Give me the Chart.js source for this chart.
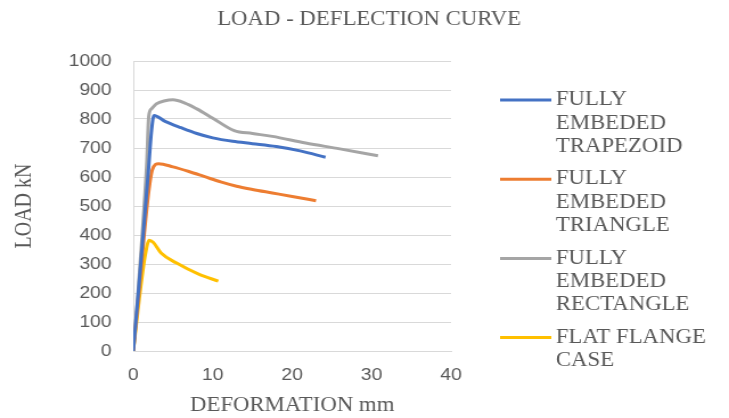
<!DOCTYPE html>
<html>
<head>
<meta charset="utf-8">
<script src="https://cdn.jsdelivr.net/npm/chart.js@4/dist/chart.umd.min.js"></script>
<style>
  html, body { margin: 0; padding: 0; background: #fff; }
  #chart { display: block; }
</style>
</head>
<body>
<!-- the reference is a slightly widened screenshot, so the canvas is stretched a bit -->
<canvas id="chart" width="640" height="418" style="width:729px;height:418px"></canvas>
<script>
// series data (deformation mm / load kN)
const trapezoidX = [0, 0.6, 1.3, 1.9, 2.3, 2.6, 4, 6, 8, 10, 12.5, 15, 18, 21, 24.2];
const trapezoidY = [0, 190, 420, 620, 760, 812, 792, 770, 750, 735, 723, 715, 705, 690, 668];

const triangleX = [0, 0.6, 1.3, 1.9, 2.4, 3.2, 5, 7, 9, 11, 13, 15, 17.5, 20, 23];
const triangleY = [0, 170, 380, 540, 625, 646, 635, 619, 601, 583, 568, 557, 545, 533, 518];

const rectangleX = [0, 0.6, 1.2, 1.7, 1.95, 2.3, 2.9, 4, 5, 6.5, 8, 10, 12.7, 15, 17.5, 21.7, 26, 30.8];
const rectangleY = [0, 200, 430, 650, 810, 835, 852, 863, 866, 855, 835, 803, 760, 750, 740, 717, 697, 673];

const flatX = [0, 0.75, 1.5, 2.0, 2.5, 3.5, 5.4, 8.3, 10.7];
const flatY = [0, 180, 330, 382, 375, 338, 304, 264, 241];

const seriesLabels = [
  ["FULLY", "EMBEDED", "TRAPEZOID"],
  ["FULLY", "EMBEDED", "TRIANGLE"],
  ["FULLY", "EMBEDED", "RECTANGLE"],
  ["FLAT FLANGE", "CASE"]
];
const seriesColors = ["#4472C4", "#ED7D31", "#A5A5A5", "#FFC000"];

const chartTitle = "LOAD - DEFLECTION CURVE";
const xTitle = "DEFORMATION mm";
const yTitle = "LOAD kN";

function toPoints(xs, ys) {
  return xs.map((x, i) => ({ x: x, y: ys[i] }));
}

const textColor = "#595959";
const serif = "'Liberation Serif', 'Times New Roman', serif";
const sans = "'Liberation Sans', Arial, sans-serif";

// title and legend drawn by hand: title centred on the whole picture,
// legend labels wrapped like the original
const sideParts = {
  id: "sideParts",
  afterDraw(chart) {
    const ctx = chart.ctx;
    ctx.save();
    ctx.fillStyle = textColor;
    ctx.textBaseline = "middle";

    ctx.font = "20px " + serif;
    ctx.textAlign = "center";
    ctx.fillText(chartTitle, 324, 20);

    const lineH = 23.4;
    let y = 100;
    ctx.textAlign = "left";
    chart.data.datasets.forEach((ds) => {
      ctx.strokeStyle = ds.borderColor;
      ctx.lineWidth = 3;
      ctx.beginPath();
      ctx.moveTo(439, y);
      ctx.lineTo(484, y);
      ctx.stroke();
      ds.label.forEach((line, k) => {
        ctx.fillText(line, 488, y + k * lineH);
      });
      y += ds.label.length * lineH + 9;
    });
    ctx.restore();
  }
};

const ctx = document.getElementById("chart").getContext("2d");
new Chart(ctx, {
  type: "scatter",
  data: {
    datasets: [
      { label: seriesLabels[0], data: toPoints(trapezoidX, trapezoidY), borderColor: seriesColors[0] },
      { label: seriesLabels[1], data: toPoints(triangleX, triangleY), borderColor: seriesColors[1] },
      { label: seriesLabels[2], data: toPoints(rectangleX, rectangleY), borderColor: seriesColors[2] },
      { label: seriesLabels[3], data: toPoints(flatX, flatY), borderColor: seriesColors[3] }
    ].map((d) => Object.assign(d, {
      showLine: true,
      borderWidth: 3,
      pointRadius: 0,
      pointHoverRadius: 0,
      cubicInterpolationMode: "monotone",
      backgroundColor: d.borderColor
    }))
  },
  options: {
    responsive: false,
    animation: false,
    layout: { padding: { left: 0, right: 244, top: 61, bottom: 0 } },
    plugins: {
      legend: { display: false },
      tooltip: { enabled: false },
      title: { display: false }
    },
    scales: {
      x: {
        type: "linear",
        min: 0,
        max: 40,
        ticks: {
          stepSize: 10,
          color: textColor,
          font: { family: sans, size: 17 },
          padding: 14
        },
        grid: { display: false, drawTicks: false },
        border: { display: true, color: "#D9D9D9", width: 1 },
        title: {
          display: true,
          text: xTitle,
          color: textColor,
          font: { family: serif, size: 20, weight: "normal" },
          padding: { top: 0, bottom: 0 }
        },
        afterFit(scale) { scale.height = 67; }
      },
      y: {
        min: 0,
        max: 1000,
        ticks: {
          stepSize: 100,
          color: textColor,
          font: { family: sans, size: 17 },
          padding: 19,
          callback: (v) => String(v)
        },
        grid: { color: "#D9D9D9", drawTicks: false },
        border: { display: true, color: "#D9D9D9", width: 1 },
        title: {
          display: true,
          text: yTitle,
          color: textColor,
          font: { family: serif, size: 20, weight: "normal" },
          padding: { top: 10, bottom: 0 }
        },
        afterFit(scale) { scale.width = 117; }
      }
    }
  },
  plugins: [sideParts]
});
</script>
</body>
</html>
